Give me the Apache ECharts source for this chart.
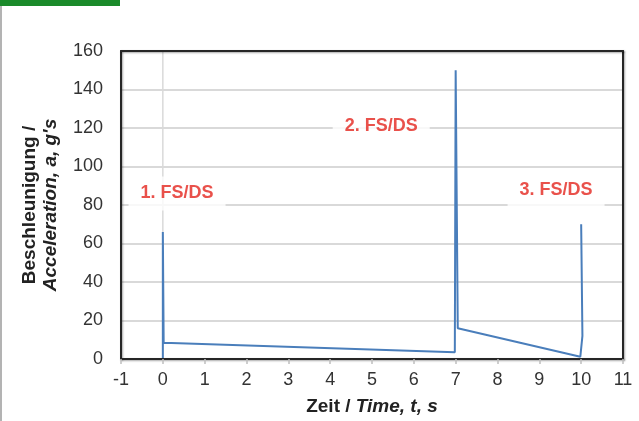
<!DOCTYPE html>
<html>
<head>
<meta charset="utf-8">
<script src="https://cdn.jsdelivr.net/npm/echarts@6/dist/echarts.min.js"></script>
<style>
  html, body {margin: 0; padding: 0; background: #fff;}
  #chart {width: 639px; height: 421px;}
</style>
</head>
<body>
<div id="chart"></div>
<script>
// Messkurve: Zeit (s) und Beschleunigung (g)
const times = [0, 0, 0.02, 6.98, 7.0, 7.05, 9.98, 10.03, 10.0];
const accel = [0, 66, 8.5, 3.5, 150, 16, 1.2, 12, 70];

// Beschriftungen der Fallstufen: [t, a, text]
const notes = [
  [0.34, 86, '1. FS/DS'],
  [5.22, 121, '2. FS/DS'],
  [9.40, 88, '3. FS/DS']
];

const yTicks = {min: 0, max: 160, step: 20};
const xTicks = {min: -1, max: 11, step: 1};
const zeroLineX = 0;

const chart = echarts.init(document.getElementById('chart'));

const font = 'Liberation Sans, Arial, sans-serif';
const frame = {
  show: true,
  onZero: false,
  lineStyle: {
    color: '#262626', width: 2,
    shadowColor: 'rgba(0,0,0,0.35)', shadowBlur: 2, shadowOffsetX: 1, shadowOffsetY: 1
  }
};

const options = {
  animation: false,
  textStyle: {fontFamily: font},
  graphic: [
    {type: 'rect', shape: {x: 0, y: 0, width: 120, height: 6}, style: {fill: '#1a8a2a'}},
    {type: 'rect', shape: {x: 0, y: 6, width: 2, height: 415}, style: {fill: '#b3b3b3'}}
  ],
  grid: {left: 121, top: 51, right: 16, bottom: 59},
  xAxis: [{
    type: 'value',
    min: xTicks.min,
    max: xTicks.max,
    interval: xTicks.step,
    z: 5,
    splitLine: {show: false},
    axisLine: frame,
    axisTick: {show: true, length: 5, lineStyle: {color: '#bfbfbf', width: 1.5}},
    axisLabel: {color: '#333', fontSize: 18, margin: 12, fontFamily: font},
    name: '{n|Zeit / }{i|Time, t, s}',
    nameLocation: 'middle',
    nameGap: 38,
    nameTextStyle: {
      rich: {
        n: {fontSize: 19, fontWeight: 'bold', color: '#222', fontFamily: font},
        i: {fontSize: 19, fontWeight: 'bold', fontStyle: 'italic', color: '#222', fontFamily: font}
      }
    }
  }, {
    type: 'value',
    position: 'top',
    min: xTicks.min,
    max: xTicks.max,
    z: 5,
    splitLine: {show: false},
    axisLine: frame,
    axisTick: {show: false},
    axisLabel: {show: false}
  }],
  yAxis: [{
    type: 'value',
    min: yTicks.min,
    max: yTicks.max,
    interval: yTicks.step,
    splitLine: {lineStyle: {color: '#d9d9d9', width: 2}},
    axisLine: frame,
    z: 0,
    axisTick: {show: false},
    axisLabel: {color: '#333', fontSize: 18, margin: 18, fontFamily: font},
    name: '{n|Beschleunigung /}\n{i|Acceleration, a, g\'s}',
    nameLocation: 'middle',
    nameRotate: 90,
    nameGap: 60,
    nameTextStyle: {
      lineHeight: 21,
      rich: {
        n: {fontSize: 19, fontWeight: 'bold', color: '#222', lineHeight: 21, fontFamily: font},
        i: {fontSize: 19, fontWeight: 'bold', fontStyle: 'italic', color: '#222', lineHeight: 21, fontFamily: font}
      }
    }
  }, {
    type: 'value',
    position: 'right',
    min: yTicks.min,
    max: yTicks.max,
    z: 5,
    splitLine: {show: false},
    axisLine: frame,
    axisTick: {show: false},
    axisLabel: {show: false}
  }],
  series: [
    {
      type: 'line',
      data: [[zeroLineX, yTicks.min], [zeroLineX, yTicks.max]],
      symbol: 'none',
      silent: true,
      z: 1,
      lineStyle: {color: '#d9d9d9', width: 1.5}
    },
    {
      type: 'line',
      data: times.map((t, i) => [t, accel[i]]),
      symbol: 'none',
      z: 3,
      lineStyle: {color: '#4a7ebb', width: 2}
    },
    {
      type: 'scatter',
      data: notes,
      symbolSize: 0,
      z: 4,
      silent: true,
      label: {
        show: true,
        position: 'inside',
        formatter: p => p.value[2],
        color: '#e4251e',
        fontSize: 18,
        fontWeight: 'bold',
        fontFamily: font,
        backgroundColor: '#fff',
        padding: [8, 12]
      }
    }
  ]
};

chart.setOption(options);
</script>
</body>
</html>
